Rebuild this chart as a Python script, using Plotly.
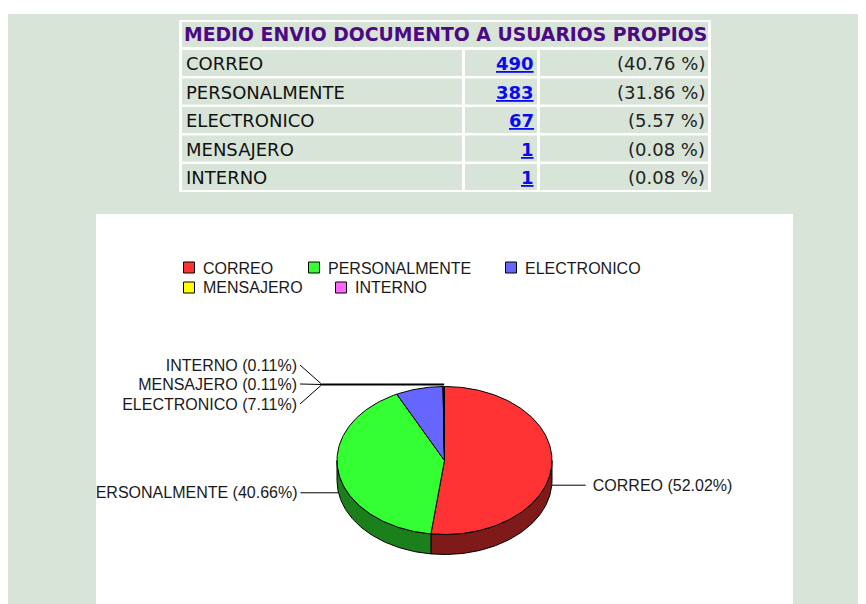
import plotly.graph_objects as go
import numpy as np

# ---------------- data ----------------
categories = ["CORREO", "PERSONALMENTE", "ELECTRONICO", "MENSAJERO", "INTERNO"]
counts = [490, 383, 67, 1, 1]
table_pcts = ["(40.76 %)", "(31.86 %)", "(5.57 %)", "(0.08 %)", "(0.08 %)"]
table_title = "MEDIO ENVIO DOCUMENTO A USUARIOS PROPIOS"

top_colors = ["#ff3333", "#33ff33", "#6666ff", "#ffff00", "#ff66ff"]
side_colors = ["#7f1a1a", "#1b7f1b", "#33337f", "#7f7f00", "#7f337f"]

# ---------------- layout constants (screen pixels) ----------------
W, H = 866, 604
OFF = 8                                # page body margin
BG = "#d7e4d7"
PANEL = (96, 214, 793, H + OFF)        # white chart panel
CX, CY, RX, RY, DEPTH = 444.5, 460.5, 107.5, 74.0, 20.0
TXT_DY = 1.5                           # vertical nudge for label text

def px(x):
    return (x - OFF) / W

def py(y):
    return 1 - (y - OFF) / H

def ept(theta, dy=0.0):
    t = np.radians(theta)
    return CX + RX * np.sin(t), CY - RY * np.cos(t) + dy

def arc(a0, a1, dy=0.0):
    n = max(2, int(abs(a1 - a0)) + 2)
    th = np.linspace(a0, a1, n)
    xs, ys = ept(th, dy)
    return list(xs), list(ys)

total = sum(counts)
fracs = [v / total for v in counts]
starts = np.concatenate([[0], np.cumsum(fracs)[:-1]]) * 360
ends = np.cumsum(fracs) * 360
mids = (starts + ends) / 2
pct_labels = [f"{c} ({f*100:.2f}%)" for c, f in zip(categories, fracs)]

fig = go.Figure()

# ---- 3D side walls (visible front half: 90..270 deg) ----
for i in range(len(counts)):
    a0, a1 = max(starts[i], 90), min(ends[i], 270)
    if a1 <= a0:
        continue
    tx, ty = arc(a0, a1)
    bx, by = arc(a1, a0, DEPTH)
    fig.add_trace(go.Scatter(x=tx + bx + [tx[0]], y=ty + by + [ty[0]], mode="lines",
                             fill="toself", fillcolor=side_colors[i],
                             line=dict(color="black", width=1),
                             hoverinfo="skip", showlegend=False))

# ---- top faces ----
for i in range(len(counts)):
    ax_, ay_ = arc(starts[i], ends[i])
    fig.add_trace(go.Scatter(x=[CX] + ax_ + [CX], y=[CY] + ay_ + [CY], mode="lines",
                             fill="toself", fillcolor=top_colors[i],
                             line=dict(color="black", width=1),
                             hoverinfo="skip", showlegend=False,
                             name=categories[i]))

# ---- leader lines & labels ----
LABEL_FONT = dict(family="Liberation Sans", size=16, color="#1a1a1a")
line_x, line_y = [], []
lbl_x, lbl_y, lbl_t, lbl_p = [], [], [], []
for i, side, gap, tgap in [(0, 1, 34, 41), (1, -1, 38, 41)]:
    x0, y0 = ept(mids[i], DEPTH)
    line_x += [x0, x0 + side * gap, None]
    line_y += [y0, y0, None]
    lbl_x.append(x0 + side * tgap)
    lbl_y.append(y0 + TXT_DY)
    lbl_t.append(pct_labels[i])
    lbl_p.append("middle right" if side > 0 else "middle left")
bundle = {4: 365, 3: 384, 2: 404}
JX, JY = 322, 384.5
thick_x, thick_y = [], []
for i, yl in bundle.items():
    x0, y0 = ept(mids[i])
    line_x += [300, JX, None]
    line_y += [yl, JY, None]
    thick_x.append(x0)
    lbl_x.append(297)
    lbl_y.append(yl + TXT_DY)
    lbl_t.append(pct_labels[i])
    lbl_p.append("middle left")

fig.add_trace(go.Scatter(x=line_x, y=line_y, mode="lines",
                         line=dict(color="black", width=1),
                         hoverinfo="skip", showlegend=False))
fig.add_trace(go.Scatter(x=[JX, max(thick_x)], y=[JY, JY], mode="lines",
                         line=dict(color="black", width=2),
                         hoverinfo="skip", showlegend=False))
fig.add_trace(go.Scatter(x=lbl_x, y=lbl_y, text=lbl_t, mode="text",
                         textposition=lbl_p, textfont=LABEL_FONT,
                         cliponaxis=True, hoverinfo="skip", showlegend=False))

# ---- manual legend ----
leg_pos = [(189, 267.5), (314, 267.5), (511, 267.5), (189, 287.5), (341, 287.5)]
fig.add_trace(go.Scatter(x=[p[0] for p in leg_pos], y=[p[1] for p in leg_pos],
                         mode="markers",
                         marker=dict(symbol="square", size=11, color=top_colors,
                                     line=dict(color="black", width=1)),
                         hoverinfo="skip", showlegend=False))

annotations = []
for (lx, ly), c in zip(leg_pos, categories):
    annotations.append(dict(x=px(lx + 12), y=py(ly + 0.5), xref="paper", yref="paper",
                            text=c, showarrow=False, xanchor="left", yanchor="middle",
                            font=LABEL_FONT))

# ---------------- table (shapes + annotations) ----------------
shapes = [
    dict(type="rect", xref="paper", yref="paper", x0=0, x1=1, y0=py(14), y1=1,
         fillcolor="white", line=dict(width=0), layer="below"),
    dict(type="rect", xref="paper", yref="paper", x0=px(179), x1=px(711),
         y0=py(192), y1=py(20), fillcolor="white", line=dict(width=0), layer="below"),
    dict(type="rect", xref="paper", yref="paper", x0=px(182), x1=px(708),
         y0=py(47), y1=py(22), fillcolor=BG, line=dict(width=0), layer="below"),
]
cols = [(182, 462), (465, 537), (540, 708)]
for r in range(len(categories)):
    top = 50 + 28.5 * r
    for (c0, c1) in cols:
        shapes.append(dict(type="rect", xref="paper", yref="paper", x0=px(c0), x1=px(c1),
                           y0=py(top + 26), y1=py(top), fillcolor=BG,
                           line=dict(width=0), layer="below"))
    yc = top + 13.5
    annotations.append(dict(x=px(184), y=py(yc), xref="paper", yref="paper",
                            text=categories[r], showarrow=False, xanchor="left",
                            yanchor="middle",
                            font=dict(family="DejaVu Sans", size=18, color="#111111")))
    annotations.append(dict(x=px(536), y=py(yc), xref="paper", yref="paper",
                            text=f"<b><u>{counts[r]}</u></b>", showarrow=False,
                            xanchor="right", yanchor="middle",
                            font=dict(family="DejaVu Sans", size=18, color="#0a0aee")))
    annotations.append(dict(x=px(707), y=py(yc), xref="paper", yref="paper",
                            text=table_pcts[r], showarrow=False, xanchor="right",
                            yanchor="middle",
                            font=dict(family="DejaVu Sans", size=18, color="#222222")))

annotations.append(dict(x=px(182), y=py(35), xref="paper", yref="paper",
                        text=f"<b>{table_title}</b>", showarrow=False, xanchor="left",
                        yanchor="middle",
                        font=dict(family="DejaVu Sans", size=18.8, color="#4b0a82")))

fig.update_layout(
    width=W, height=H, autosize=False,
    margin=dict(l=0, r=0, t=0, b=0, pad=0),
    paper_bgcolor=BG, plot_bgcolor="white",
    xaxis=dict(domain=[px(PANEL[0]), px(PANEL[2])], range=[PANEL[0], PANEL[2]],
               visible=False, fixedrange=True),
    yaxis=dict(domain=[py(PANEL[3]), py(PANEL[1])], range=[PANEL[3], PANEL[1]],
               visible=False, fixedrange=True),
    shapes=shapes, annotations=annotations, showlegend=False,
)

fig.write_html("out.html")
